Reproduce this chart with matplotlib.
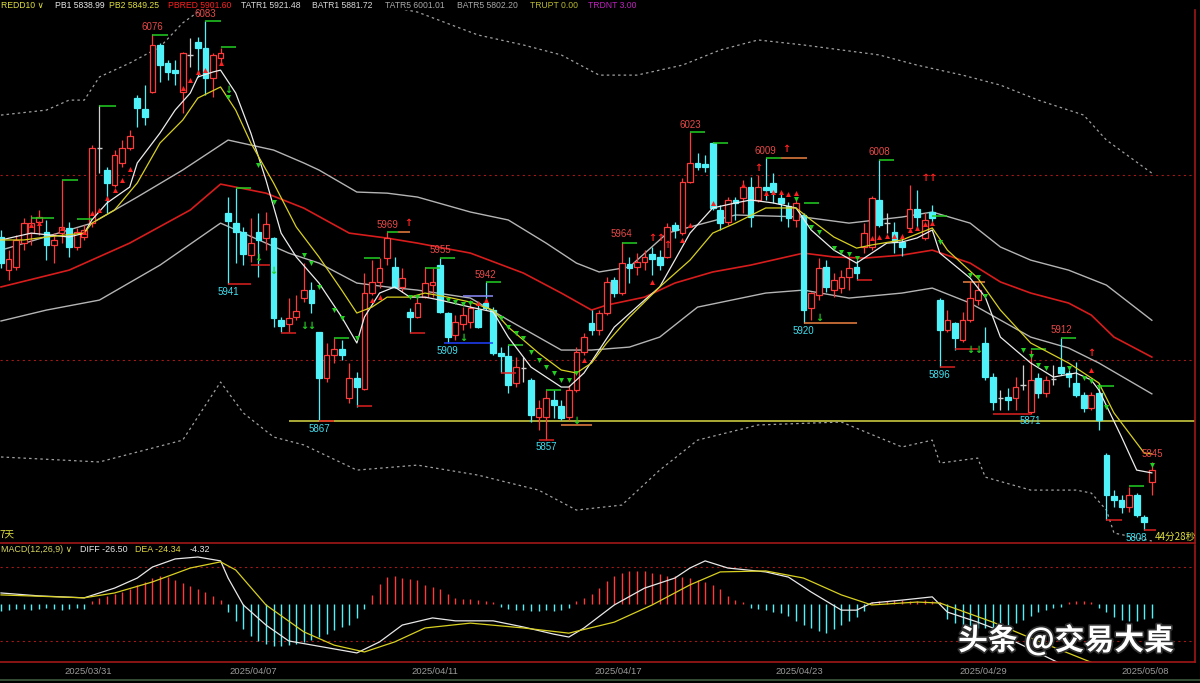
import matplotlib
matplotlib.use("Agg")
import matplotlib.pyplot as plt
import matplotlib.transforms as mtransforms
import matplotlib.patheffects as pe
from matplotlib.lines import Line2D

# ---------------- candles (one bar every ~7.6 px) ----------------
opens = [5966.5, 5948.6, 5950.3, 5963.0, 5968.6, 5974.6, 5969.2, 5962.2, 5968.6, 5971.4,
         5961.0, 5966.5, 5974.0, 6014.6, 6002.7, 5994.6, 6006.5, 6014.6, 6041.6, 6035.7,
         6044.9, 6070.3, 6060.5, 6056.7, 6044.9, 6064.9, 6071.9, 6068.6, 6052.5, 6063.2,
         5979.5, 5974.0, 5969.2, 5956.7, 5969.2, 5966.0, 5966.0, 5921.6, 5919.5, 5923.2,
         5933.5, 5937.8, 5915.1, 5890.3, 5902.7, 5906.0, 5879.5, 5890.3, 5884.3, 5936.2,
         5942.2, 5955.1, 5950.3, 5939.5, 5926.0, 5923.2, 5934.0, 5940.5, 5951.3, 5925.4,
         5913.5, 5919.5, 5920.5, 5927.0, 5930.8, 5927.0, 5903.8, 5902.2, 5887.6, 5895.7,
         5889.2, 5869.2, 5869.2, 5878.4, 5875.2, 5869.2, 5883.8, 5904.3, 5920.0, 5916.2,
         5925.4, 5943.2, 5936.2, 5951.9, 5950.3, 5953.0, 5957.3, 5955.7, 5955.7, 5973.0,
         5968.6, 5996.2, 6006.5, 6006.0, 6017.3, 5981.1, 5974.6, 5986.5, 5987.6, 5993.5,
         5986.5, 5993.5, 5995.7, 5987.6, 5983.3, 5975.7, 5978.4, 5928.0, 5935.1, 5950.3,
         5937.8, 5939.0, 5944.8, 5950.3, 5961.0, 5961.0, 5986.5, 5974.0, 5969.2, 5963.8,
         5971.4, 5981.6, 5966.0, 5980.0, 5932.4, 5916.2, 5920.0, 5910.8, 5921.6, 5932.4,
         5909.2, 5890.8, 5879.5, 5880.0, 5879.5, 5886.5, 5871.9, 5890.3, 5882.2, 5889.7,
         5896.2, 5893.0, 5887.6, 5881.1, 5874.0, 5882.2, 5848.6, 5826.5, 5824.3, 5820.5,
         5827.0, 5815.1, 5834.0]
highs = [5970.3, 5959.4, 5967.6, 5977.0, 5978.4, 5981.1, 5975.7, 5968.6, 5997.3, 5974.6,
         5971.4, 5973.0, 6016.2, 6037.8, 6004.3, 6013.5, 6018.9, 6024.3, 6043.2, 6048.6,
         6076.0, 6071.4, 6062.2, 6062.2, 6066.5, 6074.0, 6074.6, 6083.0, 6066.0, 6068.6,
         5988.1, 5993.0, 5972.0, 5976.8, 5979.5, 5980.0, 5966.5, 5923.2, 5933.5, 5935.0,
         5952.4, 5942.0, 5915.1, 5909.0, 5912.0, 5910.8, 5898.4, 5893.5, 5947.0, 5954.0,
         5955.1, 5969.0, 5955.7, 5949.7, 5928.0, 5934.0, 5950.3, 5949.7, 5955.0, 5926.0,
         5924.3, 5928.6, 5932.4, 5931.3, 5942.0, 5928.6, 5907.0, 5908.1, 5901.6, 5901.6,
         5890.3, 5878.4, 5883.8, 5883.8, 5878.4, 5886.5, 5907.0, 5914.6, 5927.0, 5927.0,
         5944.9, 5944.9, 5964.0, 5955.7, 5958.0, 5959.4, 5961.0, 5959.4, 5974.0, 5974.6,
         5998.4, 6023.0, 6011.9, 6010.8, 6017.8, 5983.8, 5988.1, 5988.1, 5997.3, 5998.9,
         6000.0, 6009.0, 6001.0, 5990.3, 5985.4, 5987.6, 5979.5, 5936.7, 5955.1, 5954.0,
         5947.0, 5948.6, 5955.1, 5954.0, 5974.0, 5988.6, 6008.0, 5979.5, 5974.6, 5966.5,
         5994.6, 5991.9, 5979.5, 5983.8, 5933.5, 5927.0, 5920.5, 5925.9, 5942.2, 5941.6,
         5917.8, 5893.0, 5883.8, 5884.9, 5890.8, 5897.3, 5905.4, 5893.0, 5891.4, 5897.3,
         5912.0, 5894.6, 5899.0, 5882.7, 5882.7, 5887.6, 5849.7, 5829.7, 5827.0, 5831.3,
         5828.0, 5816.2, 5845.0]
lows = [5949.7, 5943.2, 5948.6, 5959.4, 5962.2, 5967.6, 5954.0, 5952.4, 5963.0, 5955.7,
        5959.4, 5964.9, 5972.0, 6001.0, 5979.5, 5993.5, 6004.3, 6013.5, 6026.0, 6027.0,
        6044.3, 6050.2, 6051.3, 6048.6, 6033.5, 6058.4, 6053.0, 6043.2, 6042.2, 6059.5,
        5941.0, 5952.4, 5951.3, 5953.0, 5944.8, 5959.4, 5917.8, 5915.1, 5915.1, 5921.6,
        5931.3, 5925.4, 5867.0, 5888.1, 5898.4, 5900.0, 5876.8, 5874.6, 5883.8, 5935.1,
        5939.0, 5951.3, 5939.0, 5936.7, 5914.6, 5922.7, 5933.5, 5934.0, 5925.4, 5909.0,
        5910.8, 5916.2, 5917.3, 5917.3, 5927.0, 5902.7, 5893.0, 5882.2, 5885.4, 5888.1,
        5866.5, 5862.1, 5857.0, 5868.6, 5867.5, 5867.5, 5882.7, 5902.7, 5913.5, 5913.5,
        5924.3, 5934.0, 5935.1, 5941.6, 5946.0, 5948.6, 5946.0, 5948.6, 5955.0, 5966.0,
        5967.6, 5995.7, 6002.7, 6001.6, 5981.1, 5970.3, 5973.0, 5975.7, 5979.5, 5972.0,
        5985.4, 5986.5, 5984.9, 5975.0, 5972.0, 5972.0, 5920.0, 5921.6, 5932.4, 5936.7,
        5934.0, 5936.2, 5937.8, 5943.2, 5957.8, 5959.4, 5971.9, 5968.6, 5958.0, 5956.2,
        5970.3, 5970.3, 5964.9, 5974.6, 5896.0, 5915.1, 5905.4, 5909.7, 5920.5, 5929.7,
        5889.2, 5872.9, 5872.9, 5872.9, 5872.9, 5883.8, 5871.0, 5879.5, 5880.0, 5886.5,
        5891.9, 5885.4, 5880.0, 5871.9, 5872.9, 5862.1, 5813.5, 5820.5, 5817.3, 5817.8,
        5815.0, 5808.0, 5827.0]
closes = [5952.4, 5954.6, 5964.9, 5974.0, 5974.0, 5977.3, 5962.2, 5964.9, 5971.9, 5961.0,
          5969.2, 5970.3, 6014.6, 6014.6, 5995.7, 6010.8, 6014.6, 6021.1, 6036.2, 6031.4,
          6070.3, 6059.5, 6055.7, 6055.1, 6066.0, 6064.9, 6068.6, 6052.5, 6064.9, 6066.0,
          5975.1, 5969.2, 5957.3, 5963.2, 5964.9, 5973.5, 5922.7, 5918.4, 5922.7, 5926.5,
          5937.8, 5930.8, 5890.3, 5902.7, 5906.0, 5902.7, 5890.3, 5885.4, 5936.2, 5942.2,
          5949.7, 5966.0, 5939.5, 5944.3, 5923.2, 5930.8, 5941.6, 5942.2, 5926.0, 5912.4,
          5920.5, 5924.3, 5928.0, 5917.8, 5928.0, 5903.8, 5902.2, 5886.5, 5896.2, 5895.7,
          5870.2, 5874.0, 5879.5, 5875.7, 5868.6, 5883.8, 5904.3, 5912.4, 5916.2, 5925.4,
          5942.2, 5936.2, 5952.4, 5949.7, 5953.0, 5955.7, 5954.6, 5951.3, 5971.9, 5970.3,
          5996.2, 6006.5, 6004.3, 6004.3, 5982.2, 5974.0, 5986.5, 5984.9, 5993.5, 5977.3,
          5993.5, 5991.9, 5990.8, 5984.9, 5976.8, 5984.9, 5927.0, 5936.2, 5949.7, 5939.5,
          5943.2, 5944.8, 5949.7, 5947.0, 5968.6, 5987.6, 5973.0, 5974.0, 5963.8, 5961.0,
          5981.6, 5977.3, 5975.7, 5976.8, 5916.2, 5921.6, 5911.9, 5921.6, 5933.5, 5937.8,
          5890.8, 5877.3, 5879.5, 5878.4, 5885.4, 5886.5, 5889.2, 5882.2, 5889.2, 5889.7,
          5893.0, 5890.8, 5881.1, 5874.0, 5881.1, 5867.5, 5827.0, 5824.3, 5820.5, 5827.0,
          5816.2, 5812.4, 5840.5]

# ---------------- overlay lines (bar, price) ----------------
pb1_bars = [0, 4, 9, 11, 12, 14, 17, 18, 21, 23, 25, 26, 28, 29, 31, 33, 35, 37, 39, 42,
            45, 47, 48, 50, 52, 54, 56, 58, 62, 65, 67, 70, 74, 75, 77, 79, 81, 85, 87, 89,
            91, 94, 97, 99, 102, 105, 107, 110, 113, 114, 117, 119, 121, 123, 124, 128, 130,
            132, 136, 139, 142, 144, 145, 148, 150, 152]
pb1_vals = [5964.9, 5968.6, 5966.5, 5968.6, 5975.7, 5984.9, 5993.5, 6006.5, 6022.7, 6035.1,
            6044.3, 6053.0, 6055.7, 6056.7, 6044.3, 6022.7, 5997.3, 5968.6, 5955.7, 5941.6,
            5923.2, 5909.2, 5923.2, 5936.2, 5939.5, 5934.0, 5934.0, 5932.4, 5928.6, 5926.0,
            5912.4, 5896.2, 5885.4, 5885.4, 5893.0, 5905.4, 5917.8, 5932.4, 5939.5, 5954.0,
            5968.6, 5982.2, 5984.9, 5986.5, 5984.9, 5982.2, 5970.3, 5959.4, 5952.4, 5955.1,
            5963.2, 5963.8, 5966.0, 5970.3, 5957.8, 5944.3, 5934.0, 5912.4, 5898.4, 5890.8,
            5893.0, 5889.2, 5883.8, 5858.4, 5840.5, 5838.99]

pb2_bars = [0, 3, 6, 11, 12, 15, 18, 21, 24, 26, 29, 31, 33, 36, 39, 42, 45, 47, 49, 51,
            54, 56, 59, 62, 65, 67, 71, 74, 76, 78, 80, 83, 87, 91, 94, 97, 101, 105, 107,
            110, 113, 115, 119, 123, 125, 129, 132, 136, 141, 145, 147, 151, 152]
pb2_vals = [5964.9, 5964.9, 5966.5, 5968.6, 5974.0, 5981.1, 5995.7, 6017.3, 6029.7, 6041.6,
            6047.6, 6035.1, 6017.3, 5995.7, 5971.9, 5955.7, 5937.8, 5925.4, 5928.6, 5934.0,
            5934.0, 5936.2, 5934.0, 5931.3, 5927.0, 5917.8, 5903.8, 5894.6, 5893.0, 5898.4,
            5909.2, 5923.2, 5939.5, 5954.0, 5968.6, 5974.0, 5982.2, 5982.2, 5975.7, 5966.5,
            5960.5, 5962.2, 5964.9, 5971.4, 5959.4, 5944.3, 5927.0, 5909.2, 5898.4, 5887.6,
            5871.4, 5849.7, 5849.25]

red_bars = [0, 9, 17, 25, 29, 35, 40, 46, 51, 55, 62, 69, 74, 78, 80, 85, 89, 94, 99, 106,
            110, 114, 119, 123, 128, 132, 136, 141, 144, 147, 152]
red_vals = [5939.5, 5948.6, 5963.2, 5981.1, 5995.1, 5990.2, 5982.1, 5968.6, 5965.9, 5963.2,
            5957.8, 5947.0, 5936.2, 5927.0, 5929.7, 5934.0, 5941.6, 5947.6, 5951.3, 5957.8,
            5955.7, 5955.1, 5956.7, 5959.4, 5952.4, 5942.2, 5936.2, 5930.8, 5924.3, 5912.4,
            5901.6]

tatr1_bars = [0, 12, 18, 24, 30, 36, 40, 42, 47, 51, 55, 62, 67, 72, 76, 79, 83, 88, 92,
              97, 106, 112, 119, 123, 128, 132, 136, 141, 146, 152]
tatr1_vals = [5959.4, 5974.0, 5988.1, 6002.7, 6018.9, 6013.5, 6006.5, 6002.7, 5990.8, 5990.2,
              5988.1, 5980.0, 5975.7, 5963.2, 5952.4, 5947.6, 5950.3, 5968.6, 5973.0, 5978.4,
              5977.3, 5974.0, 5977.3, 5980.0, 5974.0, 5961.1, 5954.0, 5948.6, 5940.5, 5921.48]

batr1_bars = [0, 6, 13, 21, 29, 38, 42, 47, 51, 55, 62, 67, 74, 78, 83, 87, 92, 101, 106,
              112, 119, 123, 128, 132, 136, 141, 145, 152]
batr1_vals = [5921.1, 5927.0, 5932.4, 5951.3, 5974.0, 5957.8, 5952.4, 5941.6, 5939.5, 5937.8,
              5933.5, 5921.6, 5905.4, 5905.4, 5907.0, 5912.4, 5928.6, 5936.2, 5937.8, 5933.5,
              5936.2, 5938.9, 5930.8, 5921.6, 5912.4, 5906.5, 5898.4, 5881.72]

tatr5_bars = [0, 6, 9, 11, 13, 17, 21, 24, 26, 30, 40, 50, 55, 63, 69, 74, 79, 84, 90, 95,
              100, 106, 111, 116, 121, 127, 132, 137, 143, 146, 152]
tatr5_vals = [6032.4, 6035.1, 6040.5, 6040.5, 6053.0, 6060.5, 6069.2, 6082.2, 6088.1, 6110.0,
              6105.0, 6092.0, 6088.1, 6075.7, 6070.3, 6064.9, 6054.0, 6054.0, 6059.4, 6067.6,
              6073.0, 6070.3, 6067.6, 6064.9, 6059.4, 6054.0, 6048.6, 6040.5, 6032.4, 6018.9,
              6001.01]

batr5_bars = [0, 13, 24, 29, 32, 36, 40, 47, 55, 63, 71, 76, 82, 87, 92, 100, 111, 119, 123,
              124, 129, 130, 136, 142, 144, 146, 147, 152]
batr5_vals = [5847.6, 5844.9, 5856.7, 5888.1, 5871.4, 5858.4, 5854.1, 5840.5, 5843.2, 5837.8,
              5829.7, 5818.9, 5821.6, 5840.5, 5856.7, 5864.9, 5866.5, 5853.0, 5856.7, 5844.3,
              5847.0, 5836.7, 5829.7, 5829.7, 5828.1, 5818.9, 5806.5, 5802.2]

# ---------------- MACD ----------------
diff_bars = [0, 5, 11, 15, 18, 20, 23, 26, 29, 30, 32, 35, 38, 47, 50, 53, 57, 60, 65, 69,
             73, 75, 77, 81, 85, 89, 91, 93, 96, 101, 104, 107, 111, 113, 115, 119, 123, 125,
             129, 131, 134, 140, 146, 152]
diff_vals = [3.4, 2.5, 1.9, 4.9, 8.0, 11.4, 13.9, 14.5, 13.3, 8.0, -0.3, -6.5, -11.4, -15.1,
             -11.7, -6.5, -4.3, -5.2, -5.2, -7.1, -9.3, -10.2, -7.4, -0.3, 4.9, 8.0, 11.1, 13.3,
             11.1, 9.9, 8.3, 3.7, -1.9, -1.9, 0.3, 1.2, 2.2, -2.5, -5.6, -7.4, -11.7, -18.5,
             -23.5, -26.50]
dea_bars = [0, 11, 15, 20, 25, 29, 31, 35, 40, 44, 48, 52, 56, 62, 69, 75, 81, 86, 91, 95,
            101, 106, 111, 115, 121, 124, 131, 136, 144, 152]
dea_vals = [2.8, 1.9, 3.4, 6.8, 11.1, 13.0, 10.5, -0.3, -8.6, -12.7, -14.8, -11.7, -7.4, -5.9,
            -7.4, -9.0, -5.6, -0.3, 5.9, 9.9, 10.2, 8.0, 2.8, -0.3, 0.6, 0.3, -5.6, -10.5, -18.0,
            -24.34]
hist = [-2.2, -1.9, -1.5, -1.5, -1.9, -1.5, -1.2, -1.5, -1.9, -1.5, -1.2, -1.5,
        0.9, 1.9, 2.5,
        3.1, 3.7, 4.6, 5.9, 6.8, 8.0, 8.6, 8.3, 7.4, 6.5, 5.6, 4.6, 3.7, 2.5, 1.2,
        -2.5, -5.2, -7.7, -9.9, -11.4, -12.3, -13.0, -13.0, -12.7, -12.3, -11.7, -11.1, -10.2,
        -9.3, -8.0, -7.1, -6.5, -4.3, -1.5,
        2.8, 6.2, 8.3, 8.6, 8.0, 7.7, 7.4, 5.9, 5.2, 4.6, 3.1, 1.9, 1.5, 1.5, 1.2, 0.9, 0.6,
        -0.9, -1.5, -1.9, -1.9, -2.2, -2.2, -1.9, -2.2, -1.9, -1.2,
        0.9, 1.9, 3.1, 4.9, 7.1, 8.6, 9.6, 10.2, 10.2, 10.2, 9.6, 9.3, 8.6, 8.6, 8.3, 8.0, 7.4,
        6.8, 5.9, 4.6, 2.5, 1.2, 0.6,
        -1.2, -1.5, -1.9, -2.5, -2.8, -3.7, -5.2, -6.5, -7.4, -8.3, -8.9, -7.7, -6.5, -5.2,
        -4.0, -2.2,
        0.6, 0.9, 0.9, 1.2, 1.2, 0.9, 0.9, 1.2, 0.9, 0.6,
        -4.6, -5.9, -6.8, -7.1, -7.4, -7.4, -7.4, -7.1, -6.8, -5.9, -4.9, -3.7, -2.5, -1.9,
        -1.2, -0.9,
        0.6, 0.9, 0.9, 0.6,
        -1.2, -2.5, -4.0, -4.9, -5.2, -5.2, -4.6, -4.32]

# ---------------- annotations ----------------
high_labels = [(20, "6076"), (27, "6083"), (51, "5969"), (58, "5955"), (64, "5942"),
               (82, "5964"), (91, "6023"), (101, "6009"), (116, "6008"), (140, "5912"),
               (152, "5845")]
low_labels = [(30, "5941"), (42, "5867"), (59, "5909"), (72, "5857"), (106, "5920"),
              (124, "5896"), (136, "5871"), (151, "5808")]

up_sig_bars = [4, 5, 8, 11, 12, 13, 14, 15, 16, 17, 24, 25, 26, 27, 29, 49, 50, 63, 64, 77,
               86, 90, 91, 94, 98, 101, 102, 103, 104, 105, 115, 116, 117, 118, 119, 120,
               121, 122, 123, 144]
up_sig_vals = [5973.0, 5974.0, 5971.4, 5969.2, 5979.5, 5981.1, 5987.6, 5991.9, 5997.3,
               6003.2, 6047.0, 6051.3, 6055.7, 6056.7, 6060.5, 5932.4, 5934.0, 5930.8,
               5932.4, 5900.0, 5942.2, 5964.9, 5973.0, 5984.9, 5994.6, 5990.3, 5990.8,
               5990.8, 5989.7, 5990.3, 5966.0, 5966.5, 5967.1, 5967.1, 5967.1, 5970.3,
               5971.4, 5973.5, 5974.0, 5894.6]
dn_sig_bars = [30, 34, 36, 40, 41, 42, 44, 45, 47, 54, 55, 59, 60, 61, 62, 66, 67, 68, 69,
               70, 71, 72, 73, 74, 75, 76, 105, 107, 108, 110, 111, 112, 113, 124, 128, 129,
               130, 135, 136, 137, 138, 141, 143, 144, 145, 146, 152]
dn_sig_vals = [6042.2, 6005.4, 5985.4, 5956.7, 5952.4, 5939.5, 5927.0, 5922.7, 5911.9,
               5934.0, 5934.0, 5932.4, 5931.3, 5930.3, 5930.8, 5922.7, 5917.8, 5914.6,
               5911.9, 5904.3, 5900.0, 5896.2, 5893.0, 5889.2, 5889.2, 5893.0, 5987.0,
               5971.9, 5969.2, 5960.5, 5958.4, 5957.3, 5955.1, 5963.8, 5945.9, 5944.9,
               5934.6, 5905.4, 5902.2, 5897.3, 5895.7, 5895.7, 5890.3, 5888.6, 5885.4,
               5874.6, 5843.2]
up_arrow_bars = [86, 87, 88, 100, 122, 123, 144]
up_arrow_vals = [5966.0, 5966.0, 5962.0, 6003.8, 5998.4, 5998.4, 5903.8]
dn_arrow_bars = [30, 34, 36, 40, 41, 61, 76, 108, 128, 129]
dn_arrow_vals = [6046.0, 5955.0, 5948.0, 5918.4, 5918.4, 5912.0, 5867.0, 5923.0, 5905.4, 5905.4]

green_segs = [(4, 7, 5977.0), (8, 10.2, 5997.3), (10, 12, 5976.0), (13, 15.2, 6037.2),
              (20, 22, 6075.7), (27, 29, 6083.0), (29, 31, 6069.0), (31, 33, 5993.0),
              (44, 46, 5912.0), (48, 50, 5955.0), (51, 52.5, 5969.0), (56, 58, 5950.0),
              (58, 60, 5955.0), (64, 66, 5942.0), (67, 69, 5908.0), (72, 74, 5884.0),
              (82, 84, 5963.5), (91, 93, 6023.0), (94, 96, 6017.5), (101, 103, 6009.0),
              (106, 108, 5985.0), (116, 118, 6008.0), (123, 125, 5978.0), (136, 138, 5906.0),
              (140, 142, 5912.0), (145, 147, 5886.0), (149, 151, 5832.0)]
red_segs = [(30, 33, 5941.0), (33, 35.5, 5951.5), (37, 39, 5914.5), (42, 44, 5867.0),
            (47, 49, 5875.0), (54, 56, 5914.6), (66, 68, 5893.0), (71, 73, 5857.0),
            (113, 115, 5943.0), (124, 126, 5896.0), (126, 129, 5906.0), (131, 136, 5871.0),
            (146, 148, 5813.5), (151, 152.5, 5808.0)]
orange_segs = [(74, 78, 5865.0), (106, 113, 5920.0), (103, 106.5, 6009.0), (52.5, 54, 5969.0),
               (127, 130, 5942.0)]
blue_segs = [(58.5, 65, 5909.0)]
violet_segs = [(61, 65, 5934.5)]

date_pos = [11.5, 33.3, 57.3, 81.5, 105.5, 129.7, 151.1]
date_txt = ["2025/03/31", "2025/04/07", "2025/04/11", "2025/04/17",
            "2025/04/23", "2025/04/29", "2025/05/08"]

# ---------------- style ----------------
RED = "#ff3a3a"
CYAN = "#4ff2f8"
GREEN = "#22d022"
YEL = "#d8d020"
GRAY = "#b4b4b4"
FONT = ["Liberation Sans", "DejaVu Sans"]
CJK = ["Noto Sans CJK SC", "DejaVu Sans"]

W, H = 1200, 683
fig = plt.figure(figsize=(W / 100, H / 100), dpi=100, facecolor="black")


def fx(px):
    return px / W


def fy(py):
    return 1 - py / H


ax = fig.add_axes([0, fy(543), fx(1195), (543 - 10) / H])
ax2 = fig.add_axes([0, fy(662), fx(1195), (662 - 545) / H])
for a in (ax, ax2):
    a.set_facecolor("black")
    a.set_xlim(-0.13, 157.7)
    a.set_xticks([])
    a.set_yticks([])
    for s in ("top", "left"):
        a.spines[s].set_visible(False)
    for s in ("bottom", "right"):
        a.spines[s].set_color("#a01818")
        a.spines[s].set_linewidth(1.2)
ax.set_ylim(5801.1, 6089.2)
ax2.set_ylim(-17.9, 18.2)

# level lines
for lv in (6000, 5900):
    ax.axhline(lv, color="#a01818", lw=0.8, ls=(0, (2, 3)), zorder=1)
ax.hlines(5867, 38, 157.7, color="#c8c840", lw=1.2, zorder=2)

# bands
ax.plot(tatr5_bars, tatr5_vals, color="#a0a0a0", lw=0.9, ls=(0, (2, 2.5)), zorder=2)
ax.plot(batr5_bars, batr5_vals, color="#a0a0a0", lw=0.9, ls=(0, (2, 2.5)), zorder=2)
ax.plot(tatr1_bars, tatr1_vals, color=GRAY, lw=1.0, zorder=2)
ax.plot(batr1_bars, batr1_vals, color=GRAY, lw=1.0, zorder=2)
ax.plot(red_bars, red_vals, color="#d81c1c", lw=1.2, zorder=2)

# candles
for i, (o, h, l, c) in enumerate(zip(opens, highs, lows, closes)):
    if c > o:
        col, face = RED, "black"
    elif c < o:
        col, face = CYAN, CYAN
    else:
        col, face = "#d0d0d0", None
    ax.vlines(i, l, h, color=col, lw=0.9, zorder=3)
    if face is None:
        ax.hlines(o, i - 0.38, i + 0.38, color=col, lw=1.0, zorder=4)
    else:
        ax.bar(i, abs(c - o), bottom=min(o, c), width=0.74, facecolor=face,
               edgecolor=col, lw=0.9, zorder=4)

# fast averages
ax.plot(pb1_bars, pb1_vals, color="#ececec", lw=0.9, zorder=5)
ax.plot(pb2_bars, pb2_vals, color=YEL, lw=0.9, zorder=5)

# signal segments / markers
for segs, col in ((green_segs, GREEN), (red_segs, "#e02020"), (orange_segs, "#f08040"),
                  (blue_segs, "#2040ff"), (violet_segs, "#8c8cff")):
    for a0, a1, v in segs:
        ax.hlines(v, a0, a1, color=col, lw=1.1, zorder=4)
ax.scatter(up_sig_bars, up_sig_vals, marker="^", s=13, color="#ff2020", lw=0, zorder=6)
ax.scatter(dn_sig_bars, dn_sig_vals, marker="v", s=13, color=GREEN, lw=0, zorder=6)
for b, v in zip(up_arrow_bars, up_arrow_vals):
    ax.text(b, v, "\u2191", color="#ff2020", fontsize=7, fontweight="bold",
            ha="center", va="center", zorder=7, family=["DejaVu Sans"])
for b, v in zip(dn_arrow_bars, dn_arrow_vals):
    ax.text(b, v, "\u2193", color=GREEN, fontsize=7, fontweight="bold",
            ha="center", va="center", zorder=7, family=["DejaVu Sans"])

# price labels
for b, t in high_labels:
    ax.annotate(t, (b, highs[b]), xytext=(0, 2), textcoords="offset points",
                ha="center", va="bottom", color="#e84848", fontsize=7, family=FONT, zorder=8)
for b, t in low_labels:
    ax.annotate(t, (b, lows[b]), xytext=(-6 if b == 151 else 0, -2),
                textcoords="offset points", ha="center", va="top", color="#40e0f0",
                fontsize=7, family=FONT, zorder=8)
ax.annotate("\u2191", (51, highs[51]), xytext=(12, 3), textcoords="offset points",
            ha="left", va="bottom", color="#ff2020", fontsize=7, fontweight="bold")
ax.annotate("\u2191", (101, highs[101]), xytext=(12, 3), textcoords="offset points",
            ha="left", va="bottom", color="#ff2020", fontsize=7, fontweight="bold")

# MACD panel
ax2.axhline(11.4, color="#a01818", lw=0.8, ls=(0, (2, 3)))
ax2.axhline(-11.4, color="#a01818", lw=0.8, ls=(0, (2, 3)))
hcols = [RED if v > 0 else CYAN for v in hist]
ax2.vlines(range(len(hist)), 0, hist, colors=hcols, lw=1.0)
ax2.plot(diff_bars, diff_vals, color="#e8e8e8", lw=0.9)
ax2.plot(dea_bars, dea_vals, color=YEL, lw=0.9)

# legends / texts
top_items = [("REDD10 \u2228", 1, "#e0e040"), ("PB1 5838.99", 55, "#e8e8e8"),
             ("PB2 5849.25", 109, "#e0e040"), ("PBRED 5901.60", 168, "#ff2020"),
             ("TATR1 5921.48", 241, "#d8d8d8"), ("BATR1 5881.72", 312, "#d8d8d8"),
             ("TATR5 6001.01", 385, "#a8a8a8"), ("BATR5 5802.20", 457, "#a8a8a8"),
             ("TRUPT 0.00", 530, "#b8b830"), ("TRDNT 3.00", 588, "#c020c0")]
for t, x, c in top_items:
    fig.text(fx(x), fy(5), t, color=c, fontsize=6.2, family=FONT, ha="left", va="center")
macd_items = [("MACD(12,26,9) \u2228", 1, "#d8d860"), ("DIFF -26.50", 80, "#e8e8e8"),
              ("DEA -24.34", 135, "#e0d840"), ("-4.32", 190, "#e8e8e8")]
for t, x, c in macd_items:
    fig.text(fx(x), fy(550), t, color=c, fontsize=6.4, family=FONT, ha="left", va="center")
fig.text(fx(0), fy(535), "7天", color="#e0e040", fontsize=7, family=CJK, ha="left", va="center")
fig.text(fx(1155), fy(537), "44分28秒", color="#e0e040", fontsize=7, family=CJK,
         ha="left", va="center")

tr = mtransforms.blended_transform_factory(ax2.transData, fig.transFigure)
for p, t in zip(date_pos, date_txt):
    fig.text(p, fy(672), t, transform=tr, color="#9a9a9a", fontsize=6.8, family=FONT,
             ha="center", va="center")
fig.add_artist(Line2D([0, 1], [fy(680), fy(680)], color="#3c5a3c", lw=1.2))

wm = fig.text(fx(958), fy(640), "头条 @交易大桌", color="white", fontsize=21.5,
              fontweight="bold", family=CJK, ha="left", va="center")
wm.set_path_effects([pe.withStroke(linewidth=2.5, foreground="#303030")])

fig.savefig("out.png", dpi=100, facecolor="black")
